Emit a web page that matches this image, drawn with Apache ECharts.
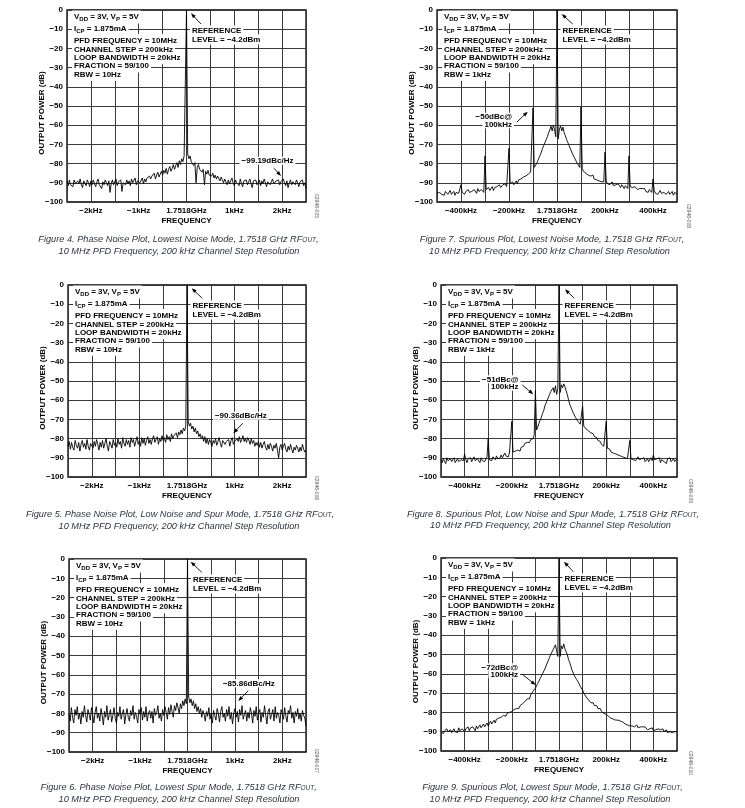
<!DOCTYPE html>
<html><head><meta charset="utf-8">
<script src="https://cdn.jsdelivr.net/npm/echarts@6/dist/echarts.min.js"></script>
<style>html,body{margin:0;padding:0;background:#fff}#c{width:745px;height:808px}</style>
</head><body><div id="c"></div>
<script>
// ---------------- DATA ----------------
// Phase-noise plots: offset from carrier in kHz (analyzer sweep of 201 points, -2.5 .. +2.5 kHz)
const pnSpan = [-2.5, 2.5];
// Spurious plots: offset from carrier in kHz (analyzer sweep of 201 points, -500 .. +500 kHz)
const spSpan = [-500, 500];
const pnTickLabels = {'-2':'−2kHz','-1':'−1kHz','0':'1.7518GHz','1':'1kHz','2':'2kHz'};
const spTickLabels = {'-400':'−400kHz','-200':'−200kHz','0':'1.7518GHz','200':'200kHz','400':'400kHz'};
const powerRange = [-100, 0];

// Figure 4 – phase noise, lowest noise mode (dB)
const fig4Power = [
-89,-91.5,-88.5,-91,-90,-92,-88.5,-90.5,-91.5,-89,
-90.5,-88,-91,-92.5,-89,-90,-91.5,-88.5,-90,-92,
-89,-91,-88.5,-90.5,-92,-89.5,-88,-91,-90,-93,
-89.5,-91,-88.5,-90,-91.5,-89,-95,-90.5,-88.5,-91,
-90,-88,-91.5,-89.5,-90.5,-88.5,-94.5,-90,-89,-91,
-88.5,-90.5,-89,-91.5,-88,-90,-89.5,-87.5,-91,-89,
-88,-90,-89,-87.5,-90.5,-88,-89.5,-87.5,-88.5,-86.5,
-88,-86.5,-87.5,-85,-88,-86,-84.5,-87,-85.5,-84,
-86,-83.5,-85,-82.5,-85.5,-83,-81.5,-84,-82.5,-80.5,
-83,-81,-79.5,-82,-78.5,-80.5,-77.5,-79,-76,-75,
0,
-75,-77.5,-76,-79,-78,-81,-79.5,-90,-82,-80.5,
-83,-82,-84.5,-83,-91,-84,-85.5,-83.5,-86,-85,
-86.5,-85,-87.5,-86,-88,-86.5,-87.5,-89,-87,-88.5,
-90,-88,-89.5,-91,-88.5,-90.5,-89,-87.5,-90,-91.5,
-88.5,-90,-89,-91.5,-88,-90.5,-92,-89,-90,-88.5,
-91,-89.5,-88,-90.5,-92.5,-89,-90,-88.5,-91,-90,
-88.5,-91.5,-89,-90.5,-88,-90,-92,-89.5,-88.5,-91,
-89.5,-88,-90.5,-91.5,-89,-90,-88.5,-91,-89.5,-90.5,
-88,-90,-91.5,-89,-92.5,-90,-88.5,-91,-89.5,-90,
-91,-88.5,-90,-92,-89.5,-90.5,-88.5,-91.5,-90,-93];

// Figure 7 – spurious, lowest noise mode (dB)
const fig7Power = [
-95.5,-96.5,-95,-94.5,-96,-95,-96.5,-94.5,-95.5,-96,
-95,-94,-96,-95.5,-94.5,-96.5,-95,-94,-95.5,-96,
-91,-95,-94,-96,-94.5,-95.5,-93.5,-95,-96,-94.5,
-95,-93.5,-94.5,-95.5,-93,-94.5,-95,-93.5,-94,-95,
-76,-93.5,-94.5,-92.5,-94,-93,-92,-94,-92.5,-93.5,
-92,-93,-91,-92.5,-93,-91,-92,-90.5,-92,-91,
-72,-90.5,-91.5,-89.5,-91,-90,-89,-90.5,-88.5,-89.5,
-88,-89,-87,-88,-86.5,-87,-85.5,-86,-84.5,-83.5,
-51,-82,-81,-80,-78.5,-77,-75.5,-74,-72,-70.5,
-69,-67.5,-66,-64,-62.5,-60.5,-63,-60,-62.5,-66,
0,
-67,-62,-60.5,-63,-61,-64,-65.5,-67.5,-69,-70.5,
-72,-73,-75,-76,-77.5,-78.5,-80,-80.5,-82,-50.5,
-82.5,-84,-83,-85,-84,-86,-85,-86.5,-87.5,-86,
-88,-87,-88.5,-87.5,-89,-88,-89.5,-88.5,-89.5,-74,
-89,-90.5,-89.5,-91,-90,-89.5,-91.5,-90.5,-91,-92,
-90.5,-91.5,-92.5,-91,-92,-93,-91.5,-92.5,-93,-76,
-92,-93,-92.5,-93.5,-92,-92.5,-93.5,-92.5,-93,-94,
-93,-94,-93,-94.5,-93.5,-95,-93.5,-94.5,-95,-88,
-94,-95.5,-94.5,-96,-95,-94,-95.5,-96.5,-95,-94.5,
-96,-95,-94.5,-96,-95.5,-94.5,-96.5,-95,-95.5,-96];

// Figure 5 – phase noise, low noise and spur mode (dB)
const fig5Power = [
-84,-81.5,-85.5,-82,-84.5,-86,-81,-83.5,-85,-82,
-86.5,-83,-81,-84.5,-82.5,-85.5,-80.5,-84,-86,-82.5,
-83.5,-85,-81.5,-84,-80.5,-83,-86,-82,-84.5,-81,
-85,-82.5,-80,-84,-86.5,-81.5,-83,-85,-80.5,-83.5,
-82,-84.5,-80,-83,-81.5,-85,-79.5,-82.5,-84,-80.5,
-83,-81,-84.5,-79.5,-82,-80.5,-84,-81.5,-79,-83,
-81,-84,-79.5,-82.5,-80,-83.5,-81,-79,-82.5,-80.5,
-83,-80,-78.5,-82,-80.5,-79,-83,-80,-81.5,-78.5,
-81,-79.5,-82,-78,-80.5,-79,-81.5,-77.5,-80,-78.5,
-79,-77,-79.5,-76.5,-78,-75.5,-77.5,-74.5,-76,-73.5,
0,
-71,-73.5,-72,-75,-73.5,-76.5,-74.5,-77.5,-76,-79,
-77.5,-80,-78.5,-81.5,-79,-82.5,-80,-83,-80.5,-82,
-84,-81,-82.5,-80,-83.5,-81.5,-79.5,-82.5,-84.5,-81,
-80,-83,-81.5,-82.5,-80.5,-84,-81,-79.5,-83,-81.5,
-82.5,-80,-81.5,-79,-82,-80.5,-78.5,-81.5,-80,-82,
-79.5,-81,-83,-80,-82.5,-81,-84,-82,-83.5,-81.5,
-84.5,-82,-85,-83,-81.5,-84.5,-86,-83,-85.5,-82.5,
-84,-86.5,-83.5,-85,-82.5,-86,-90,-84.5,-83,-86,
-84,-82.5,-85.5,-87,-84,-86,-83,-85.5,-87.5,-84.5,
-86,-83.5,-85,-87,-84.5,-86.5,-83,-85.5,-87,-86];

// Figure 8 – spurious, low noise and spur mode (dB)
const fig8Power = [
-91,-92.5,-90.5,-91.5,-93,-90,-91.5,-92,-90.5,-92,
-91,-90,-92.5,-91.5,-90.5,-92,-93,-91,-90,-91.5,
-88,-91,-92.5,-90.5,-91.5,-90,-92,-91,-89.5,-91.5,
-92,-90.5,-91,-92.5,-90,-91.5,-90.5,-92,-91,-89.5,
-80,-91,-90,-91.5,-89.5,-90.5,-91,-89,-90.5,-89.5,
-90,-88.5,-90,-89,-87.5,-89,-88,-89.5,-87.5,-88.5,
-71,-87,-88,-86.5,-87.5,-86,-85,-86.5,-84.5,-85.5,
-84,-82.5,-83.5,-82,-81,-82,-80.5,-79.5,-80,-78,
-55,-75.5,-74,-72,-70.5,-69,-67,-65.5,-63,-61.5,
-60,-58.5,-57,-55.5,-55,-53.5,-56,-52.5,-57,-54,
0,
-56,-52,-53.5,-51.5,-53,-55,-57,-59.5,-62,-63.5,
-65,-66.5,-67.5,-69,-70,-71,-72,-72.5,-73,-63,
-73.5,-74,-75,-74.5,-76,-75.5,-77,-78,-77.5,-79,
-80,-79.5,-81,-82,-81.5,-83,-82.5,-84,-83.5,-71,
-85,-86,-85.5,-87,-86,-87.5,-86.5,-88,-87.5,-88.5,
-87.5,-89,-88,-89.5,-88.5,-90,-89,-90.5,-89.5,-81,
-90.5,-89.5,-91,-90,-91.5,-90.5,-89.5,-91,-92,-90.5,
-91.5,-90,-92,-91,-90.5,-92,-91,-90,-91.5,-88.5,
-91,-92,-90.5,-91.5,-90,-92.5,-91,-90.5,-92,-91,
-93,-90.5,-91.5,-90,-92,-91,-90.5,-92,-91,-90.5];

// Figure 6 – phase noise, lowest spur mode (dB)
const fig6Power = [
-80,-84,-77,-82,-85,-78,-81,-76.5,-83,-80,
-85.5,-79,-82,-76,-81,-84.5,-78,-80.5,-83.5,-77,
-81,-85,-79.5,-76.5,-82.5,-80,-84,-77.5,-81,-86,
-79,-82,-76,-83.5,-80.5,-78,-84.5,-81,-77,-82.5,
-85,-79.5,-81.5,-76.5,-83,-80,-78,-85.5,-80.5,-77.5,
-82,-84,-78.5,-81,-76,-83,-79.5,-81.5,-85,-78,
-80.5,-77,-83.5,-79,-82,-76.5,-84,-80,-78.5,-82.5,
-79,-85,-77.5,-81,-79.5,-76,-82.5,-80,-84,-78,
-81,-76.5,-79.5,-83,-77,-80.5,-75.5,-79,-82,-76,
-78.5,-74.5,-77,-80,-75,-77.5,-73.5,-76,-72.5,-75,
0,
-71.5,-74.5,-72.5,-76,-73.5,-77.5,-75,-79,-76.5,-80,
-77.5,-82,-78.5,-80.5,-84,-79,-81.5,-77,-83,-80,
-85,-78.5,-81,-83.5,-77.5,-80,-84.5,-79,-76.5,-82,
-80,-84,-78,-81.5,-76.5,-83,-79.5,-85.5,-80,-77.5,
-82,-79,-84.5,-78,-81,-76,-83,-80.5,-78.5,-84,
-79.5,-82.5,-77,-80,-85,-78.5,-81.5,-76.5,-83.5,-80,
-78,-84.5,-79.5,-82,-76,-81,-85.5,-79,-77.5,-83,
-80.5,-78,-84,-76.5,-82.5,-79.5,-81,-85,-78,-80.5,
-83,-77,-81.5,-84.5,-78.5,-80,-76,-82.5,-79.5,-85,
-79,-81.5,-77.5,-83,-80,-84,-78.5,-81,-82.5,-86.5];

// Figure 9 – spurious, lowest spur mode (dB)
const fig9Power = [
-90,-89,-91,-89.5,-90.5,-88.5,-90,-91,-89,-90.5,
-89.5,-88.5,-90,-89,-90.5,-88,-89.5,-90,-88.5,-89,
-90,-88.5,-89,-87.5,-89.5,-88,-89,-87.5,-88.5,-89.5,
-87,-88.5,-87.5,-86.5,-88,-87,-86,-87.5,-86.5,-85.5,
-87,-86,-84.5,-86,-85,-84,-85.5,-83.5,-84.5,-83,
-84,-82.5,-83.5,-81.5,-82.5,-82,-80.5,-81.5,-80,-81,
-79.5,-80.5,-78.5,-79.5,-78,-77,-78,-76.5,-77,-75.5,
-76,-74.5,-75,-73,-72.5,-73,-71,-70.5,-69,-69.5,
-67.5,-67,-65,-64,-62.5,-61.5,-60,-59,-57.5,-56,
-54.5,-53,-51.5,-50,-49,-47.5,-46.5,-45,-46,-51,
0,
-51,-45.5,-47,-44.5,-47,-48.5,-50,-52.5,-54,-56,
-58,-59,-61,-62,-63,-64,-65,-66.5,-67.5,-68.5,
-70,-70.5,-72,-72.5,-73.5,-73,-75,-75.5,-75,-76.5,
-77,-76.5,-78,-78.5,-78,-79.5,-79,-80.5,-80,-81,
-81.5,-82,-81.5,-83,-82.5,-83.5,-83,-84,-84.5,-84,
-85,-84.5,-85.5,-85,-86,-86,-85.5,-86.5,-86,-87,
-86.5,-87,-86.5,-87.5,-87,-86.5,-88,-87,-87.5,-88,
-87.5,-88.5,-87.5,-88,-89,-88,-88.5,-89,-88,-89.5,
-88.5,-89,-90,-88.5,-89.5,-89,-90,-88.5,-90,-89.5,
-89,-90.5,-89.5,-90,-89,-90.5,-89.5,-90,-89,-90];

// ---------------- LAYOUT ----------------
const FONT = '"Liberation Sans", Arial, Helvetica, sans-serif';
const panels = [
 {left:67, top:10, width:239, height:192, kind:'pn', power:fig4Power, rbw:'10Hz', fig:'Figure 4. Phase Noise Plot, Lowest Noise Mode, 1.7518 GHz RF', id:'02946-005', idPos:[316,206],
  refArrow:[201,24,191,13.3], note:['−99.19dBc/Hz'], noteX:267.5, noteY:[160.7], noteAlign:'center', noteArrow:[274,168.3,281,176], cap:[178.5,239.5,179,251]},
 {left:437, top:10, width:240, height:192, kind:'sp', power:fig7Power, rbw:'1kHz', fig:'Figure 7. Spurious Plot, Lowest Noise Mode, 1.7518 GHz RF', id:'02946-008', idPos:[688,216],
  refArrow:[572.7,24,561.7,14], note:['−50dBc@','100kHz'], noteX:514, noteY:[116.7,124.3], noteAlign:'right', noteArrow:[516.7,122.3,527.7,111.7], cap:[552,239.5,549.5,251]},
 {left:68, top:285, width:238, height:192, kind:'pn', power:fig5Power, rbw:'10Hz', fig:'Figure 5. Phase Noise Plot, Low Noise and Spur Mode, 1.7518 GHz RF', id:'02946-006', idPos:[316,488],
  refArrow:[202.3,298.3,191.7,288.3], note:['−90.36dBc/Hz'], noteX:240.8, noteY:[415.7], noteAlign:'center', noteArrow:[242.7,423.3,233.3,433.3], cap:[180,514,179,526]},
 {left:441, top:285, width:236, height:192, kind:'sp', power:fig8Power, rbw:'1kHz', fig:'Figure 8. Spurious Plot, Low Noise and Spur Mode, 1.7518 GHz RF', id:'02946-009', idPos:[690,491],
  refArrow:[574.3,298.3,565,289.3], note:['−51dBc@','100kHz'], noteX:520.5, noteY:[379.3,386.7], noteAlign:'right', noteArrow:[522.3,385,533.3,394.3], cap:[553,514,550.5,525.5]},
 {left:69, top:559, width:237, height:193, kind:'pn', power:fig6Power, rbw:'10Hz', fig:'Figure 6. Phase Noise Plot, Lowest Spur Mode, 1.7518 GHz RF', id:'02946-007', idPos:[316.7,761],
  refArrow:[201.7,572.3,190.7,561.7], note:['−85.86dBc/Hz'], noteX:248.8, noteY:[683.3], noteAlign:'center', noteArrow:[248.3,690.7,238.3,701], cap:[178.7,787.5,179,799]},
 {left:441, top:558, width:236, height:193, kind:'sp', power:fig9Power, rbw:'1kHz', fig:'Figure 9. Spurious Plot, Lowest Spur Mode, 1.7518 GHz RF', id:'02946-010', idPos:[690,763],
  refArrow:[573.3,571.7,564,561.7], note:['−72dBc@','100kHz'], noteX:520, noteY:[667.3,674.3], noteAlign:'right', noteArrow:[522.3,674.3,535.7,685], cap:[552.5,787.5,550,799]}
];
const infoOffsets = [7, 19, 30.5, 39.5, 47.8, 56, 64.3];

// ---------------- GRAPHICS ----------------
const g = [];
const mctx = document.createElement('canvas').getContext('2d');
function fontStr(f) { return (f.style || 'normal') + ' ' + (f.weight || 'normal') + ' ' + f.size + 'px ' + FONT; }
function tw(text, f) { mctx.font = fontStr(f); return mctx.measureText(text).width; }
function T(x, y, text, st, extra) {
  g.push(Object.assign({type:'text', x, y, z:100, silent:true,
    style:Object.assign({text, fill:'#000', fontSize:8, fontWeight:'bold', fontFamily:FONT, align:'left', verticalAlign:'middle'}, st || {})}, extra || {}));
}
// a line of text made of normal and subscript segments
function segLine(x, cy, segs, main, sub, align, bg) {
  const widths = segs.map(s => tw(s[0], s[1] ? sub : main));
  const total = widths.reduce((a, b) => a + b, 0);
  let cx = align === 'center' ? x - total / 2 : x;
  if (bg) g.push({type:'rect', z:99, silent:true, shape:{x:cx - bg[0], y:cy - bg[1], width:total + bg[0] + bg[2], height:bg[1] + bg[3]}, style:{fill:'#fff'}});
  segs.forEach((s, i) => {
    const f = s[1] ? sub : main;
    T(cx, cy + (s[1] ? sub.dy : 0), s[0], {fontSize:f.size, fontWeight:f.weight || 'normal', fontStyle:f.style || 'normal', fill:f.fill || '#000'});
    cx += widths[i];
  });
}
function arrow(x1, y1, x2, y2) {
  const a = Math.atan2(y2 - y1, x2 - x1), L = 5, W = 1.9, c = Math.cos(a), s = Math.sin(a);
  const bx = x2 - L * c, by = y2 - L * s;
  g.push({type:'line', z:100, silent:true, shape:{x1, y1, x2:bx + c, y2:by + s}, style:{stroke:'#000', lineWidth:0.9}});
  g.push({type:'polygon', z:100, silent:true, shape:{points:[[x2, y2], [bx - W * s, by + W * c], [bx + W * s, by - W * c]]}, style:{fill:'#000'}});
}
const INFO_MAIN = {size:8, weight:'bold'};
const INFO_SUB = {size:6, weight:'bold', dy:2.6};
const CAP_MAIN = {size:9.2, style:'italic', fill:'#2f3341'};
const CAP_SUB = {size:6.5, style:'italic', fill:'#2f3341', dy:1};

panels.forEach(p => {
  const cx = p.left + p.width / 2;
  const info = [
    [['V',0],['DD',1],[' = 3V, V',0],['P',1],[' = 5V',0]],
    [['I',0],['CP',1],[' = 1.875mA',0]],
    [['PFD FREQUENCY = 10MHz',0]],
    [['CHANNEL STEP = 200kHz',0]],
    [['LOOP BANDWIDTH = 20kHz',0]],
    [['FRACTION = 59/100',0]],
    [['RBW = ' + p.rbw,0]]];
  info.forEach((segs, i) => segLine(p.left + 7, p.top + infoOffsets[i], segs, INFO_MAIN, INFO_SUB, 'left', [2, 6.5, 2, 6.5]));
  segLine(cx + 5.5, p.top + 20.5, [['REFERENCE',0]], INFO_MAIN, INFO_SUB, 'left', [2, 5, 2, 5]);
  segLine(cx + 5.5, p.top + 29.5, [['LEVEL = −4.2dBm',0]], INFO_MAIN, INFO_SUB, 'left', [2, 5, 2, 5]);
  arrow.apply(null, p.refArrow);
  p.note.forEach((t, i) => T(p.noteX, p.noteY[i], t, {align:p.noteAlign, backgroundColor:'#fff', padding:[0, 2, 0, 2]}));
  arrow.apply(null, p.noteArrow);
  T(p.left - 25.5, p.top + p.height / 2 + 7, 'OUTPUT POWER (dB)', {align:'center'}, {rotation:Math.PI / 2});
  T(cx, p.top + p.height + 18.7, 'FREQUENCY', {align:'center'});
  T(p.idPos[0], p.idPos[1], p.id, {align:'center', fontSize:5, fontWeight:'normal', fill:'#555'}, {rotation:-Math.PI / 2});
  segLine(p.cap[0], p.cap[1], [[p.fig,0],['OUT',1],[',',0]], CAP_MAIN, CAP_SUB, 'center', null);
  segLine(p.cap[2], p.cap[3], [['10 MHz PFD Frequency, 200 kHz Channel Step Resolution',0]], CAP_MAIN, CAP_SUB, 'center', null);
  if (p.power.length !== 201) T(p.left + 40, p.top + 100, 'LEN ' + p.power.length, {fill:'red', fontSize:14});
});

// ---------------- CHART ----------------
function toSeries(p) {
  const span = p.kind === 'pn' ? pnSpan : spSpan;
  const n = p.power.length;
  return p.power.map((v, i) => [span[0] + (span[1] - span[0]) * i / (n - 1), v]);
}
const chart = echarts.init(document.getElementById('c'), null, {renderer:'canvas'});
chart.setOption({
  animation:false,
  backgroundColor:'#fff',
  grid: panels.map(p => ({left:p.left, top:p.top, width:p.width, height:p.height, show:true,
    borderColor:'#000', borderWidth:1.3, backgroundColor:'transparent', outerBoundsMode:'none', containLabel:false})),
  xAxis: panels.map((p, i) => {
    const span = p.kind === 'pn' ? pnSpan : spSpan;
    const labels = p.kind === 'pn' ? pnTickLabels : spTickLabels;
    return {gridIndex:i, type:'value', min:span[0], max:span[1], interval:p.kind === 'pn' ? 0.5 : 100,
      axisLine:{show:false}, axisTick:{show:false},
      splitLine:{show:true, lineStyle:{color:'#3a3a3a', width:1}},
      axisLabel:{margin:4.5, fontSize:8, fontWeight:'bold', fontFamily:FONT, color:'#000', hideOverlap:false,
        formatter:v => labels[String(v)] || ''}};
  }),
  yAxis: panels.map((p, i) => ({gridIndex:i, type:'value', min:powerRange[0], max:powerRange[1], interval:10,
    axisLine:{show:false}, axisTick:{show:false},
    splitLine:{show:true, lineStyle:{color:'#3a3a3a', width:1}},
    axisLabel:{margin:4, fontSize:8, fontWeight:'bold', fontFamily:FONT, color:'#000',
      formatter:v => v === 0 ? '0' : '−' + Math.abs(v)}})),
  series: panels.map((p, i) => ({type:'line', xAxisIndex:i, yAxisIndex:i, data:toSeries(p), symbol:'none', showSymbol:false,
    lineStyle:{color:'#000', width:0.9}, z:3, silent:true})),
  graphic:{elements:g}
});
</script></body></html>
